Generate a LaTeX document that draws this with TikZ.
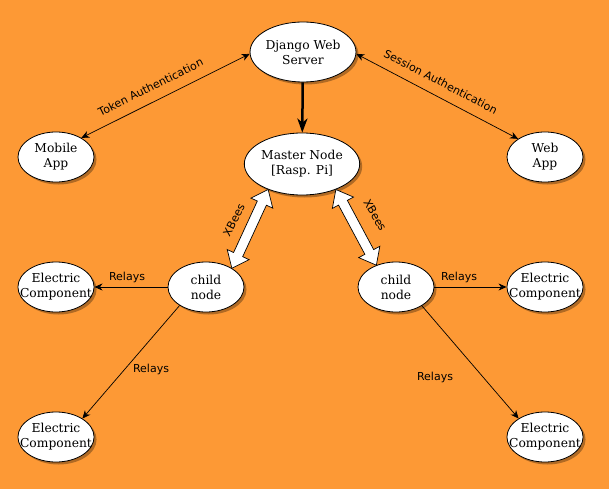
\documentclass[tikz,border=0pt]{standalone}
\usepackage{fontspec}
\setmainfont{DejaVu Serif}
\newfontfamily\labfont{DejaVu Sans}
\usetikzlibrary{shapes.geometric,shadows,arrows.meta,calc}
\definecolor{bg}{HTML}{FD9935}
\newcommand\xbeearrow[2]{%
 \coordinate (ha) at ($(#1)!15pt!(#2)$);
 \coordinate (hb) at ($(#2)!15pt!(#1)$);
 \draw[xbee] (#1) -- ($(ha)!12pt!90:(#2)$) -- ($(ha)!5pt!90:(#2)$) -- ($(hb)!5pt!-90:(#1)$) -- ($(hb)!12pt!-90:(#1)$) -- (#2) -- ($(hb)!12pt!90:(#1)$) -- ($(hb)!5pt!90:(#1)$) -- ($(ha)!5pt!-90:(#2)$) -- ($(ha)!12pt!-90:(#2)$) -- cycle;}
\begin{document}
\begin{tikzpicture}[x=1pt,y=-1pt,
  ell/.style={ellipse,draw=black,line width=0.8pt,fill=white,inner sep=0pt,align=center,
    font=\fontsize{12.3}{15}\selectfont,
    drop shadow={shadow xshift=2.5pt,shadow yshift=-2.5pt,fill=black,opacity=0.3}},
  small/.style={ell,minimum width=76pt,minimum height=50pt},
  elec/.style={small,inner xsep=-9pt},
  conn/.style={line width=0.7pt,-{Stealth[length=8pt,width=7pt,inset=2.5pt]}},
  conntwo/.style={line width=0.7pt,{Stealth[length=8pt,width=7pt,inset=2.5pt]}-{Stealth[length=8pt,width=7pt,inset=2.5pt]}},
  thick/.style={line width=2.5pt,-{Stealth[length=14pt,width=10pt,inset=4pt]}},
  lbl/.style={font=\labfont\fontsize{11}{13}\selectfont,inner sep=0pt},
  xbee/.style={draw=black,fill=white,line width=0.7pt,line join=miter}]
\fill[bg] (0,0) rectangle (609,489);
\useasboundingbox (0,0) rectangle (609,489);

\node[ell,minimum width=90pt,minimum height=60pt] (django) at (303,52) {Django Web\\Server};
\node[ell,minimum width=92pt,minimum height=62pt] (master) at (302,164) {Master Node\\{[Rasp. Pi]}};
\node[small] (mobile) at (56,157) {Mobile\\App};
\node[small] (web) at (545,157) {Web\\App};
\node[small] (childL) at (206,287) {child\\node};
\node[small] (childR) at (396,287) {child\\node};
\node[elec] (elecL) at (56,287) {Electric\\Component};
\node[elec] (elecBL) at (56,437) {Electric\\Component};
\node[elec] (elecR) at (545,287) {Electric\\Component};
\node[elec] (elecBR) at (545,437) {Electric\\Component};

\draw[conntwo] (mobile.37) -- node[lbl,pos=0.45,sloped,above=10pt] (ltok) {Token Authentication} (django.182);
\draw[conntwo] (django.-2) -- node[lbl,pos=0.48,sloped,above=10pt] (lses) {Session Authentication} (web.146);
\draw[thick] (django) -- (master);

\coordinate (xa1) at (master.217);
\coordinate (xb1) at (childL.36);
\coordinate (xa2) at (master.-37);
\coordinate (xb2) at (childR.132);
\xbeearrow{xa1}{xb1}
\xbeearrow{xa2}{xb2}
\node[lbl,rotate=63] (lx1) at (234,220) {XBees};
\node[lbl,rotate=-60] (lx2) at (375,215) {XBees};

\draw[conn] (childL.west) -- (elecL.east);
\node[lbl] (lr1) at (127,277) {Relays};
\draw[conn] (childL.215) -- (elecBL.35);
\node[lbl] (lr2) at (151,369) {Relays};
\draw[conn] (childR.east) -- (elecR.west);
\node[lbl] (lr3) at (459,277) {Relays};
\draw[conn] (childR.-36) -- (elecBR.145);
\node[lbl] (lr4) at (435,377) {Relays};
\end{tikzpicture}
\end{document}
